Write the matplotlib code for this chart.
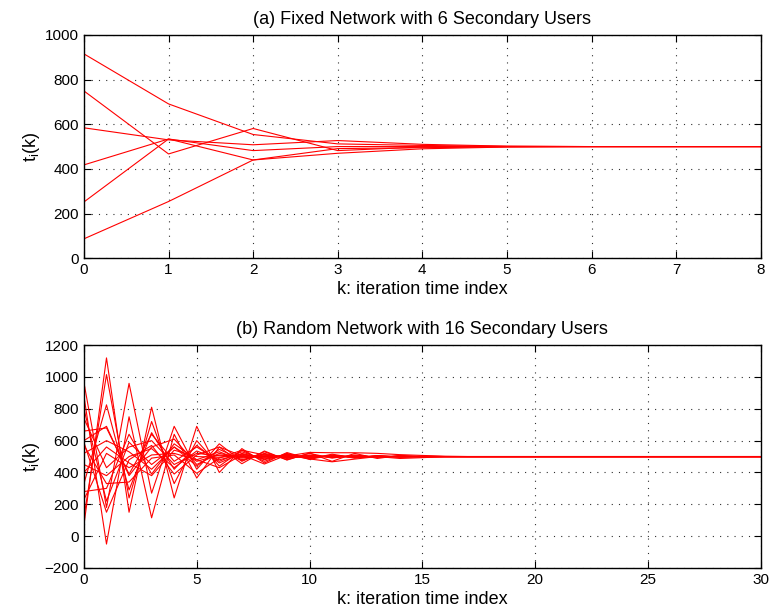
import matplotlib
matplotlib.use("Agg")
import matplotlib.pyplot as plt
import numpy as np

plt.rcParams['font.family'] = ['Liberation Sans', 'DejaVu Sans']
plt.rcParams['mathtext.fontset'] = 'custom'
plt.rcParams['mathtext.rm'] = 'Liberation Sans'

# ---- (a) fixed network, 6 users, k = 0..8
k_a = [0, 1, 2, 3, 4, 5, 6, 7, 8]
a1 = [915, 691, 554, 512, 505, 501, 500, 500, 500]
a2 = [749, 467, 581, 482, 498, 500, 500, 500, 500]
a3 = [584, 530, 508, 527, 510, 502, 500, 500, 500]
a4 = [418, 534, 482, 500, 500, 500, 500, 500, 500]
a5 = [252, 534, 440, 491, 495, 499, 500, 500, 500]
a6 = [87, 254, 440, 470, 490, 498, 500, 500, 500]
series_a = [a1, a2, a3, a4, a5, a6]

# ---- (b) random network, 16 users, k = 0..30
k_b = list(range(31))
tail = [500] * 14  # k = 17..30, all lines sit at 500
b01 = [965, 180, 960, 270, 690, 420, 580, 470, 530, 480, 520, 490, 510, 495, 505, 498, 500] + tail
b02 = [70, 1120, 150, 810, 240, 690, 400, 550, 460, 525, 485, 515, 492, 505, 497, 502, 500] + tail
b03 = [120, 1015, 240, 720, 330, 600, 440, 540, 470, 520, 482, 510, 490, 506, 496, 501, 500] + tail
b04 = [880, -50, 750, 115, 640, 365, 560, 455, 535, 478, 522, 470, 520, 488, 507, 499, 500] + tail
b05 = [660, 680, 390, 640, 470, 560, 470, 530, 480, 515, 490, 508, 495, 503, 499, 500, 500] + tail
b06 = [600, 690, 380, 560, 610, 450, 520, 490, 510, 495, 505, 497, 502, 499, 500, 500, 500] + tail
b07 = [330, 825, 290, 650, 420, 570, 460, 520, 485, 512, 493, 506, 497, 502, 499, 500, 500] + tail
b08 = [280, 300, 640, 390, 580, 480, 530, 475, 520, 488, 510, 494, 505, 498, 502, 500, 500] + tail
b09 = [800, 220, 590, 450, 560, 440, 545, 480, 515, 490, 507, 495, 504, 498, 501, 500, 500] + tail
b10 = [740, 430, 560, 600, 450, 520, 505, 500, 495, 505, 497, 503, 499, 501, 500, 500, 500] + tail
b11 = [520, 600, 530, 420, 560, 470, 510, 495, 505, 500, 498, 502, 500, 500, 500, 500, 500] + tail
b12 = [450, 380, 500, 550, 430, 535, 480, 515, 490, 508, 494, 504, 497, 502, 499, 500, 500] + tail
b13 = [400, 560, 460, 380, 540, 500, 495, 510, 500, 497, 503, 499, 501, 500, 500, 500, 500] + tail
b14 = [230, 520, 430, 510, 520, 480, 430, 510, 453, 510, 485, 467, 484, 500, 488, 493, 500] + tail
b15 = [590, 150, 480, 570, 390, 510, 560, 505, 500, 503, 526, 524, 524, 520, 512, 507, 502] + tail
b16 = [570, 330, 340, 490, 510, 395, 490, 540, 510, 492, 500, 500, 500, 500, 500, 500, 500] + tail
series_b = [b01, b02, b03, b04, b05, b06, b07, b08, b09, b10, b11, b12, b13, b14, b15, b16]

title_a = "(a) Fixed Network with 6 Secondary Users"
title_b = "(b) Random Network with 16 Secondary Users"
xlabel = "k: iteration time index"
ylabel = r"t$_\mathregular{i}$(k)"

fig = plt.figure(figsize=(7.7, 6.12), dpi=100)
ax1 = fig.add_axes([0.109, 0.578, 0.879, 0.365])
ax2 = fig.add_axes([0.109, 0.072, 0.879, 0.364])

def style(ax):
    ax.grid(True, linestyle=(0, (1, 5.5)), color='#303030', linewidth=0.8)
    ax.tick_params(direction='in', top=True, right=True, labelsize=11, length=5)
    for s in ax.spines.values():
        s.set_linewidth(1.0)

for s in series_a:
    ax1.plot(k_a, s, color='red', linewidth=0.8)
ax1.set_xlim(0, 8)
ax1.set_ylim(0, 1000)
ax1.set_xticks(range(0, 9))
ax1.set_yticks(range(0, 1001, 200))
ax1.set_title(title_a, fontsize=13, pad=8)
ax1.set_xlabel(xlabel, fontsize=13, labelpad=3)
ax1.set_ylabel(ylabel, fontsize=13, labelpad=2)
style(ax1)

for s in series_b:
    ax2.plot(k_b, s, color='red', linewidth=0.8)
ax2.set_xlim(0, 30)
ax2.set_ylim(-200, 1200)
ax2.set_xticks(range(0, 31, 5))
ax2.set_yticks(range(-200, 1201, 200))
ax2.set_yticklabels(["\u2212200"] + [str(v) for v in range(0, 1201, 200)])
ax2.set_title(title_b, fontsize=13, pad=8)
ax2.set_xlabel(xlabel, fontsize=13, labelpad=3)
ax2.set_ylabel(ylabel, fontsize=13, labelpad=2)
style(ax2)

fig.savefig("out.png", dpi=100)
